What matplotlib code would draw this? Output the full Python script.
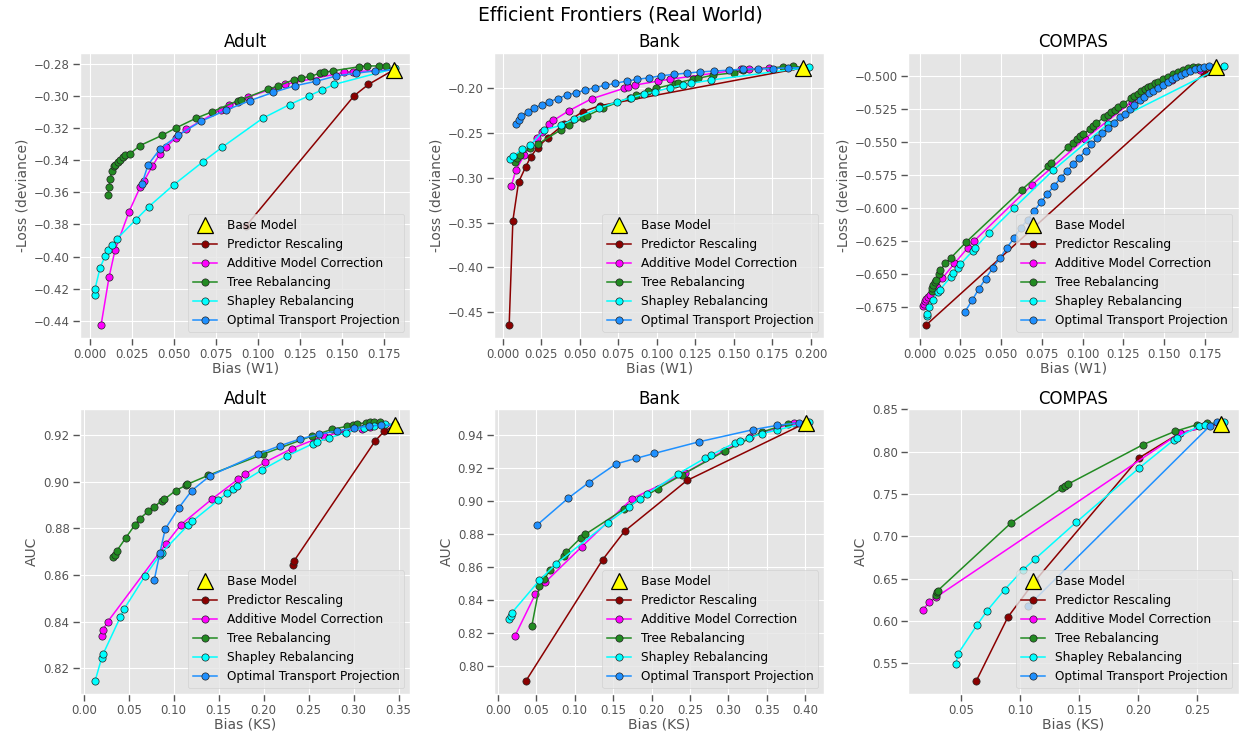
import numpy as np
import matplotlib
matplotlib.use("Agg")
import matplotlib.pyplot as plt

plt.style.use("ggplot")

methods = ["Predictor Rescaling", "Additive Model Correction", "Tree Rebalancing",
           "Shapley Rebalancing", "Optimal Transport Projection"]
colors = ["darkred", "magenta", "forestgreen", "cyan", "dodgerblue"]

# ---------------- Adult, W1 ----------------
adult_w1_base = (0.181, -0.284)
adult_w1_pr_x = [0.093, 0.1575, 0.166]
adult_w1_pr_y = [-0.381, -0.300, -0.293]
adult_w1_am_x = [0.0066, 0.0113, 0.0149, 0.0233, 0.0298, 0.0322, 0.037, 0.0418, 0.0453, 0.0513,
                 0.0573, 0.078, 0.083, 0.088, 0.094, 0.116, 0.1515, 0.157]
adult_w1_am_y = [-0.4425, -0.413, -0.396, -0.372, -0.357, -0.353, -0.344, -0.336, -0.332, -0.326,
                 -0.321, -0.3086, -0.306, -0.304, -0.301, -0.293, -0.2855, -0.285]
adult_w1_tr_x = [0.0107, 0.0113, 0.0119, 0.0131, 0.0143, 0.0149, 0.0167, 0.0179, 0.0197, 0.0209,
                 0.0239, 0.0298, 0.043, 0.0513, 0.0632, 0.0728, 0.0883, 0.090, 0.106, 0.112,
                 0.1217, 0.1259, 0.1313, 0.1372, 0.1396, 0.145, 0.1605, 0.1653, 0.1724, 0.1766]
adult_w1_tr_y = [-0.3615, -0.357, -0.352, -0.347, -0.344, -0.343, -0.341, -0.340, -0.338, -0.337,
                 -0.336, -0.331, -0.3246, -0.320, -0.314, -0.310, -0.303, -0.3025, -0.296, -0.294,
                 -0.290, -0.289, -0.288, -0.286, -0.2855, -0.2845, -0.282, -0.2815, -0.2815, -0.2815]
adult_w1_sh_x = [0.003, 0.003, 0.006, 0.009, 0.0107, 0.013, 0.016, 0.0274, 0.035, 0.050,
                 0.0674, 0.0788, 0.103, 0.119, 0.1307, 0.1384, 0.1456, 0.182]
adult_w1_sh_y = [-0.4236, -0.420, -0.407, -0.3997, -0.396, -0.393, -0.389, -0.377, -0.369, -0.3553,
                 -0.341, -0.332, -0.314, -0.3055, -0.300, -0.2964, -0.293, -0.283]
adult_w1_ot_x = [0.031, 0.0346, 0.0418, 0.0525, 0.066, 0.081, 0.0955, 0.109, 0.1223, 0.135,
                 0.1468, 0.1587, 0.170]
adult_w1_ot_y = [-0.3547, -0.343, -0.333, -0.3246, -0.316, -0.309, -0.303, -0.298, -0.2938, -0.291,
                 -0.2877, -0.286, -0.2846]

# ---------------- Bank, W1 ----------------
bank_w1_base = (0.195, -0.177)
bank_w1_pr_x = [0.0041, 0.0065, 0.0102, 0.0149, 0.0181, 0.0225, 0.0291, 0.040, 0.0518, 0.063]
bank_w1_pr_y = [-0.4644, -0.3478, -0.3049, -0.2875, -0.2766, -0.2662, -0.2552, -0.2397, -0.2262, -0.2195]
bank_w1_am_x = [0.0054, 0.0084, 0.0138, 0.022, 0.0252, 0.0302, 0.0328, 0.043, 0.0576, 0.0788,
                0.0814, 0.086, 0.1008, 0.1083, 0.1547, 0.160, 0.173]
bank_w1_am_y = [-0.3096, -0.2918, -0.2747, -0.2552, -0.249, -0.2397, -0.236, -0.225, -0.2118, -0.200,
                -0.1982, -0.1964, -0.192, -0.190, -0.179, -0.1784, -0.177]
bank_w1_tr_x = [0.0076, 0.009, 0.0113, 0.0173, 0.0231, 0.0378, 0.0432, 0.0522, 0.0548, 0.0652,
                0.0825, 0.0867, 0.0943, 0.0997, 0.1116, 0.1137, 0.1234, 0.1267, 0.1364, 0.1498,
                0.1558, 0.1817, 0.1882]
bank_w1_tr_y = [-0.2827, -0.2784, -0.2747, -0.2673, -0.2618, -0.2464, -0.2416, -0.2331, -0.2306, -0.2221,
                -0.2104, -0.2074, -0.203, -0.200, -0.195, -0.1938, -0.190, -0.189, -0.1853, -0.1828,
                -0.1798, -0.1762, -0.1751]
bank_w1_sh_x = [0.0048, 0.0069, 0.0123, 0.0177, 0.027, 0.0375, 0.0464, 0.0626, 0.0744, 0.0835,
                0.0917, 0.099, 0.1087, 0.117, 0.1223, 0.1353, 0.199]
bank_w1_sh_y = [-0.2795, -0.2758, -0.2684, -0.2637, -0.2464, -0.2416, -0.2342, -0.2221, -0.2151, -0.2104,
                -0.2066, -0.2037, -0.1993, -0.1964, -0.1945, -0.1908, -0.1765]
bank_w1_ot_x = [0.0087, 0.0102, 0.0119, 0.0162, 0.0205, 0.0252, 0.0302, 0.0356, 0.0414, 0.0472,
                0.0533, 0.0598, 0.0663, 0.0731, 0.0803, 0.0874, 0.0949, 0.1029, 0.1111, 0.1195,
                0.1282, 0.137, 0.1465, 0.1558, 0.1655, 0.1752, 0.185]
bank_w1_ot_y = [-0.2405, -0.2353, -0.2313, -0.2262, -0.2221, -0.2184, -0.2151, -0.2115, -0.2077, -0.2052,
                -0.2022, -0.1993, -0.1967, -0.1945, -0.192, -0.190, -0.1883, -0.186, -0.1845, -0.1831,
                -0.1817, -0.1809, -0.1798, -0.1787, -0.1784, -0.178, -0.1773]

# ---------------- COMPAS, W1 ----------------
compas_w1_base = (0.1821, -0.4932)
compas_w1_pr_x = [0.0041, 0.1746]
compas_w1_pr_y = [-0.6885, -0.4982]
compas_w1_am_x = [0.0023, 0.0027, 0.0033, 0.0041, 0.0051, 0.0063, 0.0108, 0.0139, 0.0214, 0.0297,
                  0.0332, 0.0688, 0.1013, 0.130, 0.155, 0.172]
compas_w1_am_y = [-0.6745, -0.6728, -0.6707, -0.669, -0.6677, -0.6658, -0.6595, -0.6533, -0.642, -0.630,
                  -0.6253, -0.5828, -0.5478, -0.520, -0.5035, -0.4955]
compas_w1_tr_x = [0.0074, 0.0078, 0.0084, 0.0092, 0.0098, 0.0122, 0.0128, 0.0159, 0.0193, 0.0287,
                  0.0627, 0.079, 0.0804, 0.0912, 0.0942, 0.0963, 0.0987, 0.1003, 0.1044, 0.1064,
                  0.1085, 0.1131, 0.1156, 0.1176, 0.1196, 0.1217, 0.1248, 0.1298, 0.1318, 0.1339,
                  0.1359, 0.138, 0.140, 0.142, 0.1441, 0.1461, 0.1492, 0.1522, 0.1553, 0.1583,
                  0.1614, 0.1644, 0.1675, 0.1705]
compas_w1_tr_y = [-0.6628, -0.6603, -0.6583, -0.6558, -0.6545, -0.6503, -0.647, -0.642, -0.6377, -0.6257,
                  -0.5863, -0.5683, -0.5662, -0.5537, -0.5507, -0.5482, -0.5457, -0.5445, -0.5402, -0.5382,
                  -0.5362, -0.5312, -0.5295, -0.5277, -0.5257, -0.5237, -0.5212, -0.517, -0.5152, -0.5137,
                  -0.512, -0.5102, -0.5087, -0.5075, -0.5057, -0.5045, -0.5027, -0.5008, -0.499, -0.4975,
                  -0.4957, -0.4945, -0.4937, -0.4932]
compas_w1_sh_x = [0.0043, 0.0047, 0.0061, 0.0084, 0.0114, 0.0124, 0.0193, 0.0206, 0.0236, 0.025,
                  0.0326, 0.0338, 0.0424, 0.058, 0.082, 0.1156, 0.1864]
compas_w1_sh_y = [-0.682, -0.6803, -0.6753, -0.670, -0.6633, -0.662, -0.652, -0.6495, -0.6452, -0.6427,
                  -0.6325, -0.6307, -0.619, -0.600, -0.5715, -0.5365, -0.4927]
compas_w1_ot_x = [0.0277, 0.0322, 0.0363, 0.0405, 0.045, 0.0494, 0.0535, 0.058, 0.062, 0.0664,
                  0.0704, 0.0745, 0.0784, 0.0826, 0.0865, 0.0903, 0.0942, 0.0979, 0.1018, 0.1054,
                  0.1089, 0.1121, 0.1156, 0.1193, 0.1227, 0.1258, 0.1288, 0.1318, 0.1349, 0.1376,
                  0.1406, 0.1431, 0.1461, 0.1492, 0.1522, 0.1549, 0.1573, 0.1603, 0.163, 0.1658,
                  0.1691, 0.1719, 0.1746, 0.1776]
compas_w1_ot_y = [-0.6788, -0.670, -0.6613, -0.6535, -0.6452, -0.6377, -0.6302, -0.6227, -0.6152, -0.6088,
                  -0.602, -0.5957, -0.5893, -0.5833, -0.5773, -0.5722, -0.567, -0.562, -0.557, -0.552,
                  -0.5475, -0.5435, -0.5395, -0.5357, -0.5315, -0.529, -0.5252, -0.522, -0.5188, -0.5158,
                  -0.5132, -0.5113, -0.509, -0.507, -0.5045, -0.5027, -0.5008, -0.4995, -0.4977, -0.4962,
                  -0.4952, -0.494, -0.4932, -0.4927]

# ---------------- Adult, KS ----------------
adult_ks_base = (0.3457, 0.9241)
adult_ks_pr_x = [0.2329, 0.2336, 0.3242, 0.3342]
adult_ks_pr_y = [0.8642, 0.8659, 0.9175, 0.9216]
adult_ks_am_x = [0.020, 0.0211, 0.0266, 0.0913, 0.1079, 0.1431, 0.1719, 0.1793, 0.2011, 0.2311,
                 0.2669, 0.291, 0.3094, 0.3187]
adult_ks_am_y = [0.8337, 0.8364, 0.840, 0.8733, 0.8815, 0.8927, 0.9011, 0.9032, 0.9082, 0.9141,
                 0.9196, 0.9213, 0.9227, 0.9234]
adult_ks_tr_x = [0.0329, 0.0348, 0.037, 0.0469, 0.0569, 0.0625, 0.0717, 0.0784, 0.0865, 0.0895,
                 0.1024, 0.1135, 0.1153, 0.1386, 0.1996, 0.254, 0.2762, 0.2928, 0.2994, 0.3039,
                 0.3142, 0.3187, 0.3224, 0.329]
adult_ks_tr_y = [0.8676, 0.8684, 0.8705, 0.876, 0.8815, 0.8842, 0.8873, 0.8893, 0.8917, 0.8924,
                 0.8962, 0.8984, 0.8989, 0.9027, 0.9118, 0.9196, 0.9224, 0.9237, 0.9242, 0.9248,
                 0.9252, 0.9254, 0.9254, 0.9255]
adult_ks_sh_x = [0.0126, 0.020, 0.0218, 0.0407, 0.0451, 0.068, 0.085, 0.0865, 0.1161, 0.1209,
                 0.1494, 0.1597, 0.1664, 0.170, 0.1985, 0.2262, 0.2551, 0.2595, 0.2725, 0.2921,
                 0.312, 0.3231, 0.3353, 0.3464]
adult_ks_sh_y = [0.8146, 0.8246, 0.8264, 0.842, 0.8456, 0.8595, 0.8688, 0.8695, 0.8814, 0.8831,
                 0.892, 0.8951, 0.8969, 0.8983, 0.9051, 0.911, 0.9163, 0.917, 0.9187, 0.921,
                 0.9231, 0.9237, 0.9245, 0.9245]
adult_ks_ot_x = [0.0784, 0.0847, 0.0906, 0.1054, 0.1201, 0.1405, 0.1937, 0.2177, 0.240, 0.2614,
                 0.2817, 0.3002, 0.3168, 0.3305]
adult_ks_ot_y = [0.8578, 0.8695, 0.8797, 0.8886, 0.8962, 0.9025, 0.9118, 0.9153, 0.9182, 0.9203,
                 0.9217, 0.923, 0.9238, 0.9242]

# ---------------- Bank, KS ----------------
bank_ks_base = (0.4009, 0.9472)
bank_ks_pr_x = [0.0364, 0.1362, 0.1649, 0.246]
bank_ks_pr_y = [0.7906, 0.8641, 0.8815, 0.9122]
bank_ks_am_x = [0.0226, 0.0486, 0.0616, 0.1093, 0.1744, 0.243, 0.2937, 0.3284, 0.3848]
bank_ks_am_y = [0.8182, 0.8431, 0.8505, 0.8721, 0.9011, 0.9166, 0.9302, 0.9386, 0.9472]
bank_ks_tr_x = [0.0443, 0.0542, 0.0607, 0.0681, 0.0855, 0.0889, 0.108, 0.1137, 0.1636, 0.2078,
                0.2395, 0.2959, 0.3436, 0.3774]
bank_ks_tr_y = [0.8242, 0.8481, 0.8525, 0.8581, 0.8667, 0.8687, 0.8775, 0.8795, 0.8947, 0.9072,
                0.9156, 0.9302, 0.9416, 0.9466]
bank_ks_sh_x = [0.0148, 0.0169, 0.0182, 0.0542, 0.0759, 0.1427, 0.1709, 0.1844, 0.1939, 0.2343,
                0.2698, 0.2772, 0.3089, 0.3154, 0.3271, 0.3436, 0.3631, 0.4052]
bank_ks_sh_y = [0.8284, 0.830, 0.832, 0.8517, 0.8617, 0.8865, 0.8961, 0.9011, 0.9041, 0.9162,
                0.9258, 0.9276, 0.9352, 0.9362, 0.938, 0.9406, 0.9428, 0.9476]
bank_ks_ot_x = [0.0508, 0.0911, 0.118, 0.1536, 0.1796, 0.2035, 0.2612, 0.3319, 0.3631, 0.3913]
bank_ks_ot_y = [0.8851, 0.9013, 0.9108, 0.9222, 0.9256, 0.9286, 0.9356, 0.943, 0.9456, 0.9472]

# ---------------- COMPAS, KS ----------------
compas_ks_base = (0.2704, 0.8329)
compas_ks_pr_x = [0.0628, 0.0897, 0.1124, 0.2012, 0.2358]
compas_ks_pr_y = [0.529, 0.6046, 0.6467, 0.7927, 0.822]
compas_ks_am_x = [0.0179, 0.023, 0.0287, 0.2358]
compas_ks_am_y = [0.6135, 0.6225, 0.628, 0.822]
compas_ks_tr_x = [0.0287, 0.0296, 0.0301, 0.0926, 0.1357, 0.1379, 0.1408, 0.2046, 0.2316, 0.250, 0.2585]
compas_ks_tr_y = [0.6311, 0.6342, 0.6357, 0.716, 0.7569, 0.7588, 0.7616, 0.8083, 0.8239, 0.8317, 0.8336]
compas_ks_sh_x = [0.0457, 0.0472, 0.0633, 0.0718, 0.0869, 0.1025, 0.1127, 0.1479, 0.2009, 0.231,
                  0.2335, 0.2523, 0.2571, 0.2727]
compas_ks_sh_y = [0.5493, 0.5609, 0.5948, 0.6116, 0.6369, 0.6603, 0.6731, 0.7168, 0.7803, 0.8142,
                  0.8161, 0.8305, 0.8313, 0.8348]
compas_ks_ot_x = [0.1067, 0.2613, 0.267]
compas_ks_ot_y = [0.6174, 0.8305, 0.8344]

panels = [
    ("Adult", "Bias (W1)", "-Loss (deviance)", adult_w1_base,
     [(adult_w1_pr_x, adult_w1_pr_y), (adult_w1_am_x, adult_w1_am_y), (adult_w1_tr_x, adult_w1_tr_y),
      (adult_w1_sh_x, adult_w1_sh_y), (adult_w1_ot_x, adult_w1_ot_y)]),
    ("Bank", "Bias (W1)", "-Loss (deviance)", bank_w1_base,
     [(bank_w1_pr_x, bank_w1_pr_y), (bank_w1_am_x, bank_w1_am_y), (bank_w1_tr_x, bank_w1_tr_y),
      (bank_w1_sh_x, bank_w1_sh_y), (bank_w1_ot_x, bank_w1_ot_y)]),
    ("COMPAS", "Bias (W1)", "-Loss (deviance)", compas_w1_base,
     [(compas_w1_pr_x, compas_w1_pr_y), (compas_w1_am_x, compas_w1_am_y), (compas_w1_tr_x, compas_w1_tr_y),
      (compas_w1_sh_x, compas_w1_sh_y), (compas_w1_ot_x, compas_w1_ot_y)]),
    ("Adult", "Bias (KS)", "AUC", adult_ks_base,
     [(adult_ks_pr_x, adult_ks_pr_y), (adult_ks_am_x, adult_ks_am_y), (adult_ks_tr_x, adult_ks_tr_y),
      (adult_ks_sh_x, adult_ks_sh_y), (adult_ks_ot_x, adult_ks_ot_y)]),
    ("Bank", "Bias (KS)", "AUC", bank_ks_base,
     [(bank_ks_pr_x, bank_ks_pr_y), (bank_ks_am_x, bank_ks_am_y), (bank_ks_tr_x, bank_ks_tr_y),
      (bank_ks_sh_x, bank_ks_sh_y), (bank_ks_ot_x, bank_ks_ot_y)]),
    ("COMPAS", "Bias (KS)", "AUC", compas_ks_base,
     [(compas_ks_pr_x, compas_ks_pr_y), (compas_ks_am_x, compas_ks_am_y), (compas_ks_tr_x, compas_ks_tr_y),
      (compas_ks_sh_x, compas_ks_sh_y), (compas_ks_ot_x, compas_ks_ot_y)]),
]

fig, axes = plt.subplots(2, 3, figsize=(12.41, 7.36), dpi=100)
fig.subplots_adjust(left=0.0645, right=0.998, top=0.928, bottom=0.057, wspace=0.254, hspace=0.25)

for ax, (title, xlabel, ylabel, base, series) in zip(axes.flat, panels):
    ax.plot(base[0], base[1], marker="^", linestyle="none", markersize=11,
            markerfacecolor="yellow", markeredgecolor="black", markeredgewidth=0.9,
            label="Base Model", zorder=5)
    for (xs, ys), name, c in zip(series, methods, colors):
        # every frontier ends at the base model
        xs = np.append(xs, base[0])
        ys = np.append(ys, base[1])
        ax.plot(xs, ys, color=c, marker="o", markersize=5.2, linewidth=1.1,
                markeredgecolor="#222222", markeredgewidth=0.5, label=name)
    ax.set_title(title, fontsize=12, color="black", pad=4)
    ax.set_xlabel(xlabel, fontsize=10, labelpad=0)
    ax.set_ylabel(ylabel, fontsize=10, labelpad=3)
    ax.tick_params(axis="both", labelsize=8.5, length=5, width=1, pad=2.5, colors="#555555")
    ax.tick_params(axis="both", labelcolor="#555555")
    ax.legend(loc="lower right", fontsize=8.7, facecolor="#E5E5E5", edgecolor="#CCCCCC",
              framealpha=0.8)

fig.suptitle("Efficient Frontiers (Real World)", fontsize=13.5, y=0.993)
plt.savefig("out.png", dpi=100)
